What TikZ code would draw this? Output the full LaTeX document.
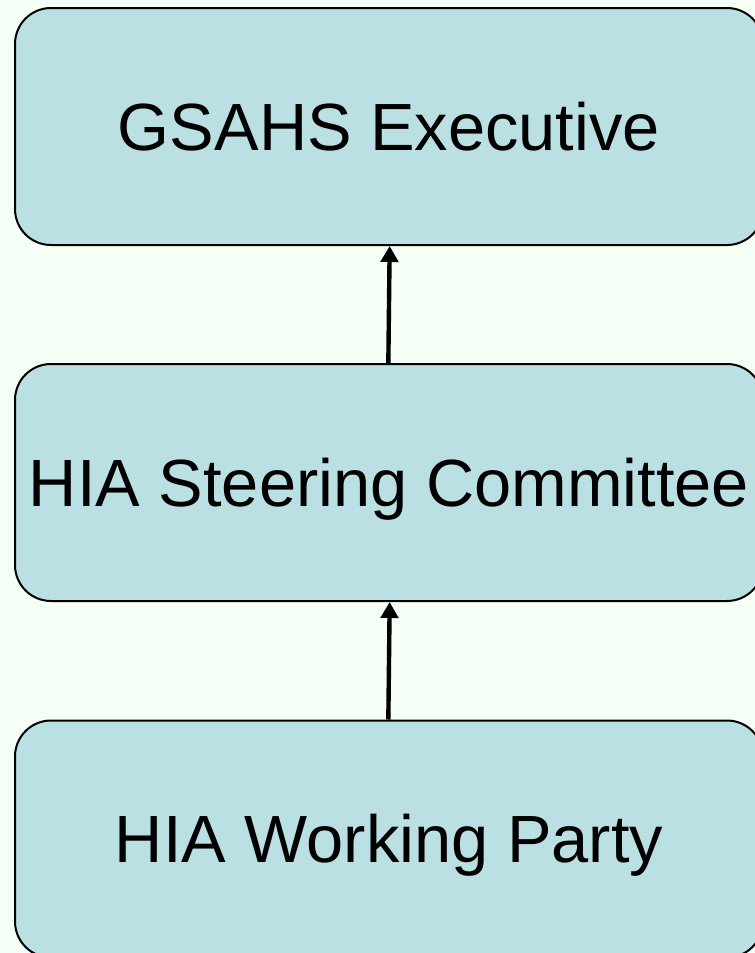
\documentclass[tikz,border=0pt]{standalone}
\usepackage{fontspec}
\setmainfont{Liberation Sans}
\usetikzlibrary{arrows.meta}
\definecolor{bgc}{HTML}{F6FFF6}
\definecolor{boxc}{HTML}{BAE0E3}
\begin{document}
\begin{tikzpicture}[x=0.75pt,y=-0.75pt,
  box/.style={draw=black, line width=1.5pt, fill=boxc, rounded corners=27pt,
    minimum width=561pt, minimum height=177.75pt, inner sep=0pt,
    text height=35.9pt, text depth=0pt,
    font=\fontsize{50.1}{58}\selectfont},
  arr/.style={draw=black, line width=3.3pt, -{Triangle[length=12pt,width=13pt]}}]
\useasboundingbox (0,0) rectangle (755,953);
\fill[bgc] (0,0) rectangle (755,953);
\clip (0,0) rectangle (755,953);
\node[box] (b1) at (389,126.5) {GSAHS Executive};
\node[box] (b2) at (389,482.5) {HIA Steering Committee};
\node[box] (b3) at (389,839) {HIA Working Party};
\draw[arr] ([xshift=-0.5pt]b2.north) -- ([xshift=0.5pt]b1.south);
\draw[arr] ([xshift=-0.5pt]b3.north) -- ([xshift=0.5pt]b2.south);
\end{tikzpicture}
\end{document}
